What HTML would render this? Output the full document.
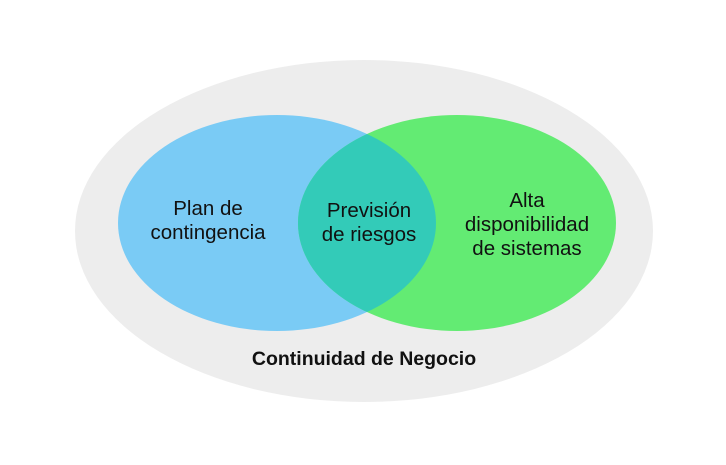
<!DOCTYPE html>
<html><head><meta charset="utf-8"><style>html,body{margin:0;padding:0;background:#fff}svg{display:block}</style></head>
<body>
<svg width="726" height="465" viewBox="0 0 726 465" xmlns="http://www.w3.org/2000/svg" font-family="Liberation Sans, sans-serif">
<defs><clipPath id="c"><ellipse cx="277" cy="223" rx="159" ry="108"/></clipPath></defs>
<ellipse cx="364" cy="231" rx="289" ry="171" fill="#ededed"/>
<ellipse cx="277" cy="223" rx="159" ry="108" fill="#7acbf5"/>
<ellipse cx="457" cy="223" rx="159" ry="108" fill="#63eb73"/>
<ellipse cx="457" cy="223" rx="159" ry="108" fill="#33cbb8" clip-path="url(#c)"/>
<g font-size="20.5" fill="#111" text-anchor="middle">
<text x="208" y="215">Plan de</text>
<text x="208" y="239">contingencia</text>
<text x="369" y="217">Previsión</text>
<text x="369" y="241">de riesgos</text>
<text x="527" y="207">Alta</text>
<text x="527" y="231">disponibilidad</text>
<text x="527" y="255">de sistemas</text>
<text x="364" y="365" font-weight="bold" font-size="19.5">Continuidad de Negocio</text>
</g>
</svg>
</body></html>
